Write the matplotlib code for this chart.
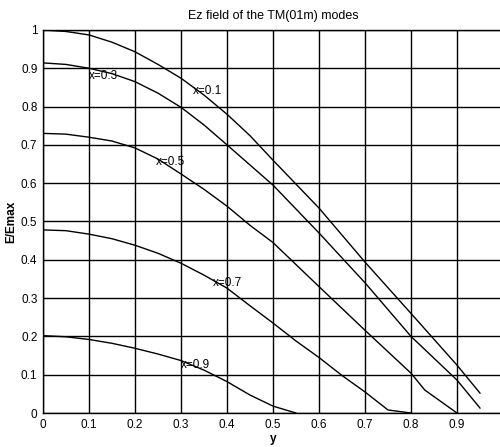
import matplotlib
matplotlib.use("Agg")
import matplotlib.pyplot as plt

plt.rcParams['font.family'] = ['Liberation Sans', 'DejaVu Sans']

# Data
y_01 = [0, 0.05, 0.1, 0.15, 0.2, 0.25, 0.3, 0.35, 0.4, 0.45, 0.5, 0.6, 0.7, 0.8, 0.9, 0.95]
e_01 = [1.0, 0.996, 0.987, 0.968, 0.943, 0.91, 0.874, 0.83, 0.78, 0.724, 0.66, 0.535, 0.394, 0.26, 0.125, 0.052]

y_03 = [0, 0.05, 0.1, 0.15, 0.2, 0.25, 0.3, 0.35, 0.4, 0.5, 0.6, 0.7, 0.8, 0.9, 0.95]
e_03 = [0.914, 0.910, 0.90, 0.886, 0.865, 0.835, 0.798, 0.752, 0.70, 0.595, 0.47, 0.34, 0.20, 0.086, 0.013]

y_05 = [0, 0.05, 0.1, 0.15, 0.2, 0.25, 0.3, 0.35, 0.4, 0.45, 0.5, 0.6, 0.7, 0.8, 0.83, 0.9]
e_05 = [0.73, 0.728, 0.72, 0.71, 0.692, 0.663, 0.624, 0.584, 0.54, 0.49, 0.445, 0.33, 0.216, 0.104, 0.06, 0.0]

y_07 = [0, 0.05, 0.1, 0.15, 0.2, 0.25, 0.3, 0.35, 0.4, 0.45, 0.5, 0.55, 0.6, 0.65, 0.7, 0.75, 0.8]
e_07 = [0.478, 0.476, 0.467, 0.455, 0.438, 0.417, 0.391, 0.36, 0.326, 0.28, 0.235, 0.188, 0.145, 0.098, 0.055, 0.008, 0.0]

y_09 = [0, 0.05, 0.1, 0.15, 0.2, 0.25, 0.3, 0.35, 0.4, 0.45, 0.5, 0.55]
e_09 = [0.202, 0.199, 0.192, 0.182, 0.169, 0.154, 0.137, 0.112, 0.082, 0.047, 0.018, 0.0]

labels = ["x=0.1", "x=0.3", "x=0.5", "x=0.7", "x=0.9"]
label_pos = [(0.325, 0.84), (0.10, 0.88), (0.245, 0.655), (0.37, 0.34), (0.30, 0.125)]

xticks = [0, 0.1, 0.2, 0.3, 0.4, 0.5, 0.6, 0.7, 0.8, 0.9]
xticklabels = ["0", "0.1", "0.2", "0.3", "0.4", "0.5", "0.6", "0.7", "0.8", "0.9"]
yticks = [0, 0.1, 0.2, 0.3, 0.4, 0.5, 0.6, 0.7, 0.8, 0.9, 1.0]
yticklabels = ["0", "0.1", "0.2", "0.3", "0.4", "0.5", "0.6", "0.7", "0.8", "0.9", "1"]

fig = plt.figure(figsize=(5.0, 4.47), dpi=100)
ax = fig.add_axes([0.086, 0.076, 0.92, 0.857])

for yy, ee in [(y_01, e_01), (y_03, e_03), (y_05, e_05), (y_07, e_07), (y_09, e_09)]:
    ax.plot(yy, ee, color='black', lw=1.0)

for lab, (px, py) in zip(labels, label_pos):
    ax.text(px, py, lab, fontsize=8.5, color='black', va='center', ha='left')

ax.set_xlim(0, 1.0)
ax.set_ylim(0, 1.0)
ax.set_xticks(xticks)
ax.set_xticklabels(xticklabels)
ax.set_yticks(yticks)
ax.set_yticklabels(yticklabels)
ax.set_xticks([1.0], minor=True)
ax.grid(True, which='both', color='black', lw=1.0)
ax.tick_params(length=0, labelsize=8.5, pad=4)
for s in ax.spines.values():
    s.set_color('black')
    s.set_linewidth(1.0)

ax.set_title("Ez field of the TM(01m) modes", fontsize=9, pad=8)
ax.set_xlabel("y", fontsize=8.5, labelpad=2, fontweight='bold')
ax.set_ylabel("E/Emax", fontsize=8.5, labelpad=3, fontweight='bold')

fig.savefig("out.png", dpi=100)
